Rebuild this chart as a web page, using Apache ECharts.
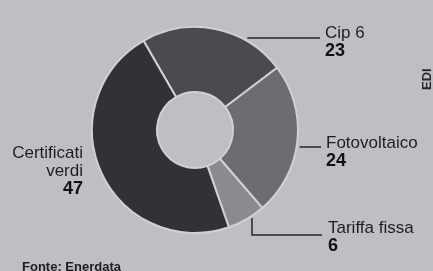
<!DOCTYPE html>
<html>
<head>
<meta charset="utf-8">
<script src="https://cdn.jsdelivr.net/npm/echarts@6/dist/echarts.min.js"></script>
<style>
  html, body { margin: 0; padding: 0; background: #c0bec2; }
  #chart { width: 433px; height: 271px; }
</style>
</head>
<body>
<div id="chart"></div>
<script>
// quote per tipo di incentivo (%)
var categories = ['Cip 6', 'Fotovoltaico', 'Tariffa fissa', 'Certificati verdi'];
var labelNames = ['Cip 6', 'Fotovoltaico', 'Tariffa fissa', 'Certificati\nverdi'];
var values = [23, 24, 6, 47];
var colors = ['#4b4a50', '#6d6c72', '#8b8a8f', '#323136'];

var cx = 195, cy = 130, r0 = 38, r1 = 103;
function edgeX(y) {
    return cx + Math.sqrt(r1 * r1 - (y - cy) * (y - cy));
}

var font = "'Liberation Sans', Arial, sans-serif";

option = {
    backgroundColor: '#c0bec2',
    animation: false,
    graphic: [
        {
            type: 'text',
            left: 22,
            top: 261,
            style: { text: 'Fonte: Enerdata', font: 'bold 13px ' + font, fill: '#202024' }
        },
        {
            type: 'text',
            x: 421,
            y: 90,
            rotation: Math.PI / 2,
            style: { text: 'EDI', font: 'bold 13px ' + font, fill: '#2a2a2e' }
        }
    ],
    series: [{
        type: 'pie',
        center: [cx, cy],
        radius: [r0, r1],
        startAngle: 120,
        clockwise: true,
        avoidLabelOverlap: false,
        itemStyle: {
            borderColor: '#d2d0d4',
            borderWidth: 2
        },
        label: {
            show: true,
            position: 'outside',
            color: '#1e1e22',
            fontFamily: font,
            formatter: function (p) {
                var lines = labelNames[p.dataIndex].split('\n').map(function (s) {
                    return '{n|' + s + '}';
                });
                return lines.join('\n') + '\n{v|' + p.value + '}';
            },
            rich: {
                n: { fontSize: 17, lineHeight: 18, fontFamily: font, color: '#1e1e22' },
                v: { fontSize: 18, lineHeight: 18, fontWeight: 'bold', fontFamily: font, color: '#111113' }
            }
        },
        labelLine: {
            show: true,
            lineStyle: { color: '#26262a', width: 1.5 }
        },
        labelLayout: function (params) {
            var i = params.dataIndex;
            if (i === 0) {
                return {
                    x: 325, y: 24, align: 'left', verticalAlign: 'top',
                    labelLinePoints: [[edgeX(38) + 6, 38], [280, 38], [320, 38]]
                };
            }
            if (i === 1) {
                return {
                    x: 326, y: 134, align: 'left', verticalAlign: 'top',
                    labelLinePoints: [[edgeX(147) + 3, 147], [310, 147], [321, 147]]
                };
            }
            if (i === 2) {
                return {
                    x: 328, y: 219, align: 'left', verticalAlign: 'top',
                    labelLinePoints: [[252, 218], [252, 235], [322, 235]]
                };
            }
            return { x: 83, y: 144, align: 'right', verticalAlign: 'top' };
        },
        data: categories.map(function (c, i) {
            var d = { name: c, value: values[i], itemStyle: { color: colors[i] } };
            if (i === 3) d.labelLine = { show: false };
            return d;
        })
    }]
};

var myecharts = echarts.init(document.getElementById('chart'));
myecharts.setOption(option);
</script>
</body>
</html>
